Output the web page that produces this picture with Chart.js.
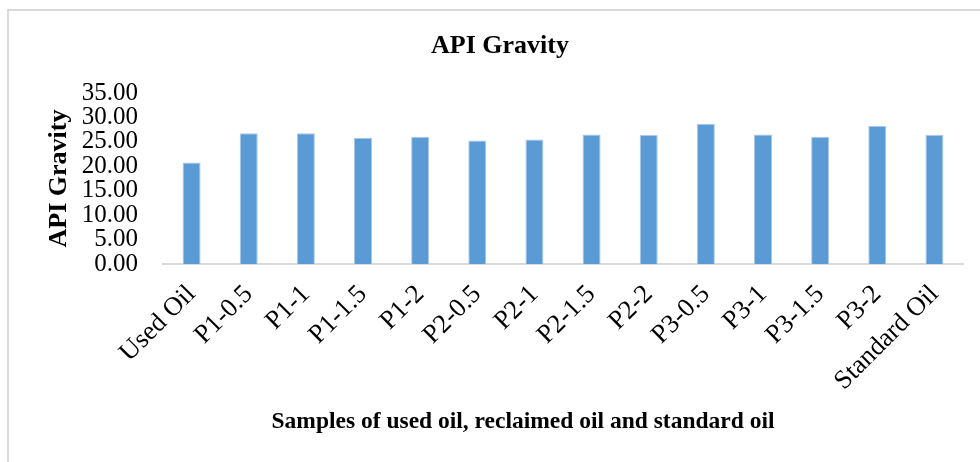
<!DOCTYPE html>
<html>
<head>
<meta charset="utf-8">
<script src="https://cdn.jsdelivr.net/npm/chart.js@4.4.1/dist/chart.umd.min.js"></script>
<style>
html,body{margin:0;padding:0;background:#fff;}
#wrap{width:980px;height:462px;position:relative;}
</style>
</head>
<body>
<div id="wrap"><canvas id="c" width="980" height="462"></canvas></div>
<script>
const categories = ['Used Oil','P1-0.5','P1-1','P1-1.5','P1-2','P2-0.5','P2-1','P2-1.5','P2-2','P3-0.5','P3-1','P3-1.5','P3-2','Standard Oil'];
const apiGravity = [20.8, 26.75, 26.75, 25.85, 26.05, 25.3, 25.5, 26.5, 26.4, 28.7, 26.5, 26.05, 28.25, 26.4];
const yTickValues = [0, 5, 10, 15, 20, 25, 30, 35];
const chartTitle = 'API Gravity';
const yTitle = 'API Gravity';
const xTitle = 'Samples of used oil, reclaimed oil and standard oil';

const SERIF = '"Liberation Serif", "Times New Roman", serif';

const decor = {
  id: 'decor',
  beforeDraw(chart) {
    const ctx = chart.ctx;
    ctx.save();
    ctx.strokeStyle = '#d9d9d9';
    ctx.lineWidth = 2;
    ctx.beginPath();
    ctx.moveTo(8, 462);
    ctx.lineTo(8, 10);
    ctx.lineTo(980, 10);
    ctx.stroke();
    ctx.restore();
  },
  afterDraw(chart) {
    const ctx = chart.ctx;
    ctx.save();
    ctx.fillStyle = '#000';
    ctx.textAlign = 'center';
    ctx.textBaseline = 'alphabetic';
    ctx.font = 'bold 26px ' + SERIF;
    ctx.fillText(chartTitle, 500, 53);
    ctx.font = 'bold 23.5px ' + SERIF;
    ctx.fillText(xTitle, 523, 428);
    ctx.restore();
  }
};

new Chart(document.getElementById('c'), {
  type: 'bar',
  data: {
    labels: categories,
    datasets: [{
      data: apiGravity,
      backgroundColor: '#5b9bd5',
      borderColor: '#a9c9ea',
      borderWidth: 1,
      barPercentage: 0.315,
      categoryPercentage: 1.0
    }]
  },
  options: {
    responsive: false,
    animation: false,
    layout: { padding: { top: 93, right: 17, bottom: 0, left: 0 } },
    plugins: {
      legend: { display: false },
      title: { display: false },
      tooltip: { enabled: false }
    },
    scales: {
      x: {
        grid: { display: false, drawTicks: false },
        border: { display: true, color: '#d9d9d9', width: 2 },
        ticks: {
          color: '#000',
          font: { family: SERIF, size: 26.5 },
          minRotation: 45,
          maxRotation: 45,
          padding: 15,
          autoSkip: false
        },
        afterFit(scale) { scale.height = 198; }
      },
      y: {
        min: 0,
        max: 35,
        afterBuildTicks(scale) { scale.ticks = yTickValues.map(v => ({ value: v })); },
        grid: { display: false, drawTicks: false },
        border: { display: false },
        ticks: {
          color: '#000',
          font: { family: SERIF, size: 25 },
          padding: 25,
          autoSkip: false,
          callback: v => Number(v).toFixed(2)
        },
        title: {
          display: true,
          text: yTitle,
          color: '#000',
          font: { family: SERIF, size: 26, weight: 'bold' },
          padding: { top: 44, bottom: 0 }
        },
        afterFit(scale) { scale.width = 163; }
      }
    }
  },
  plugins: [decor]
});
</script>
</body>
</html>
